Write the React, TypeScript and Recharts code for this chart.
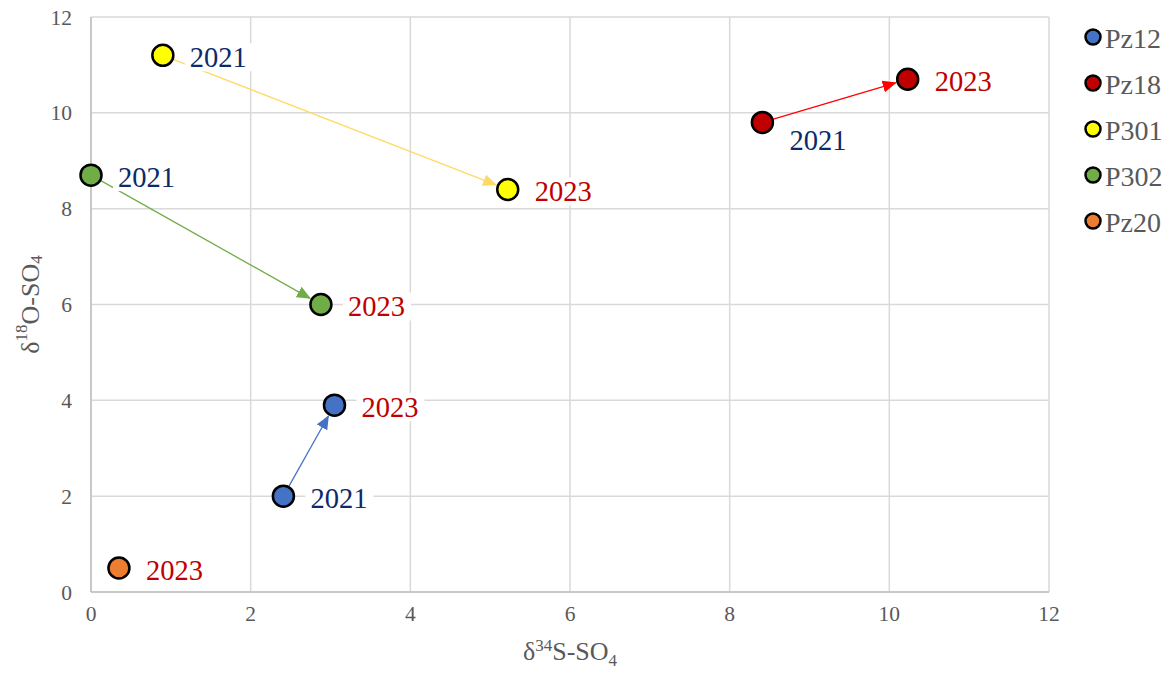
import React from 'react';
import { ScatterChart, Scatter, XAxis, YAxis, CartesianGrid, ReferenceLine } from 'recharts';

const FONT = '"Liberation Serif", "Times New Roman", serif';

const xTicks = [0, 2, 4, 6, 8, 10, 12];
const yTicks = [0, 2, 4, 6, 8, 10, 12];

const pz12 = [
  { x: 2.41, y: 2.0, year: '2021' },
  { x: 3.05, y: 3.9, year: '2023' },
];
const pz18 = [
  { x: 8.41, y: 9.8, year: '2021' },
  { x: 10.23, y: 10.7, year: '2023' },
];
const p301 = [
  { x: 0.9, y: 11.2, year: '2021' },
  { x: 5.22, y: 8.4, year: '2023' },
];
const p302 = [
  { x: 0.0, y: 8.7, year: '2021' },
  { x: 2.88, y: 6.0, year: '2023' },
];
const pz20 = [{ x: 0.35, y: 0.5, year: '2023' }];

const series = [
  { name: 'Pz12', data: pz12, color: '#4472C4', arrow: '#4472C4' },
  { name: 'Pz18', data: pz18, color: '#C00000', arrow: '#FF0000' },
  { name: 'P301', data: p301, color: '#FFFF00', arrow: '#FFD966' },
  { name: 'P302', data: p302, color: '#70AD47', arrow: '#70AD47' },
  { name: 'Pz20', data: pz20, color: '#ED7D31', arrow: '' },
];

const belowLabels = ['Pz18-2021'];
const yearColors: Record<string, string> = { '2021': '#0B2A6A', '2023': '#C00000' };

const makeShape = (fill: string, name: string) => (props: any) => {
  const { cx, cy, payload } = props;
  const below = belowLabels.includes(`${name}-${payload.year}`);
  const tx = cx + 27;
  const ty = cy + (below ? 18 : 2);
  return (
    <g>
      <rect x={tx - 5} y={ty - 14} width={68} height={28} fill="#fff" />
      <circle cx={cx} cy={cy} r={10.5} fill={fill} stroke="#000" strokeWidth={2.5} />
      <text x={tx} y={ty} dominantBaseline="central" fontSize={28.5} fill={yearColors[payload.year]} fontFamily={FONT}>
        {payload.year}
      </text>
    </g>
  );
};

const arrowShape = (color: string, id: string) => (p: any) => {
  const { x1, y1, x2, y2 } = p;
  const dx = x2 - x1;
  const dy = y2 - y1;
  const len = Math.hypot(dx, dy) || 1;
  const ex = x2 - (dx / len) * 12.5;
  const ey = y2 - (dy / len) * 12.5;
  return (
    <g>
      <defs>
        <marker id={id} markerWidth={14} markerHeight={12} refX={13} refY={6} orient="auto" markerUnits="userSpaceOnUse">
          <path d="M0,0 L14,6 L0,12 z" fill={color} />
        </marker>
      </defs>
      <line x1={x1} y1={y1} x2={ex} y2={ey} stroke={color} strokeWidth={1.3} markerEnd={`url(#${id})`} />
    </g>
  );
};

const XTitle = (props: any) => {
  const vb = props.viewBox || { x: 91, y: 592, width: 958, height: 86 };
  return (
    <text x={vb.x + vb.width / 2} y={vb.y + 68} textAnchor="middle" fontSize={26} fill="#595959" fontFamily={FONT}>
      <tspan>δ</tspan>
      <tspan dy={-9} fontSize={17}>34</tspan>
      <tspan dy={9}>S-SO</tspan>
      <tspan dy={6} fontSize={17}>4</tspan>
    </text>
  );
};

const YTitle = (props: any) => {
  const vb = props.viewBox || { x: 0, y: 17, width: 91, height: 575 };
  const cx = 30;
  const cy = vb.y + vb.height / 2;
  return (
    <text x={cx} y={cy} transform={`rotate(-90, ${cx}, ${cy})`} textAnchor="middle" dominantBaseline="central" fontSize={26} fill="#595959" fontFamily={FONT}>
      <tspan>δ</tspan>
      <tspan dy={-9} fontSize={17}>18</tspan>
      <tspan dy={9}>O-SO</tspan>
      <tspan dy={6} fontSize={17}>4</tspan>
    </text>
  );
};

export default function App() {
  const tickStyle = { fill: '#595959', fontSize: 21.5, fontFamily: FONT };
  return (
    <div style={{ position: 'absolute', left: 0, top: 0, width: 1173, height: 678, background: '#fff', fontFamily: FONT }}>
      <ScatterChart width={1173} height={678} margin={{ top: 17, right: 124, bottom: 0, left: 0 }}>
        <CartesianGrid stroke="#d9d9d9" strokeWidth={1.5} />
        <XAxis
          type="number"
          dataKey="x"
          domain={[0, 12]}
          ticks={xTicks}
          interval={0}
          height={86}
          tickLine={false}
          tickMargin={8}
          stroke="#bfbfbf"
          strokeWidth={1.5}
          tick={tickStyle}
          label={<XTitle />}
        />
        <YAxis
          type="number"
          dataKey="y"
          domain={[0, 12]}
          ticks={yTicks}
          interval={0}
          width={91}
          tickLine={false}
          tickMargin={13}
          stroke="#bfbfbf"
          strokeWidth={1.5}
          tick={tickStyle}
          label={<YTitle />}
        />
        {series
          .filter((s) => s.data.length > 1)
          .map((s) => (
            <ReferenceLine
              key={`arr-${s.name}`}
              segment={[
                { x: s.data[0].x, y: s.data[0].y },
                { x: s.data[1].x, y: s.data[1].y },
              ]}
              ifOverflow="visible"
              shape={arrowShape(s.arrow, `arrow-${s.name}`)}
            />
          ))}
        {series.map((s) => (
          <Scatter
            key={s.name}
            name={s.name}
            data={s.data}
            fill={s.color}
            isAnimationActive={false}
            shape={makeShape(s.color, s.name)}
          />
        ))}
      </ScatterChart>
      <svg style={{ position: 'absolute', left: 1070, top: 0 }} width={103} height={250}>
        {series.map((s, i) => (
          <g key={s.name}>
            <circle cx={23} cy={37 + 46 * i} r={7.5} fill={s.color} stroke="#000" strokeWidth={2.5} />
            <text x={35} y={38 + 46 * i} dominantBaseline="central" fontSize={28} fill="#595959" fontFamily={FONT}>
              {s.name}
            </text>
          </g>
        ))}
      </svg>
    </div>
  );
}
